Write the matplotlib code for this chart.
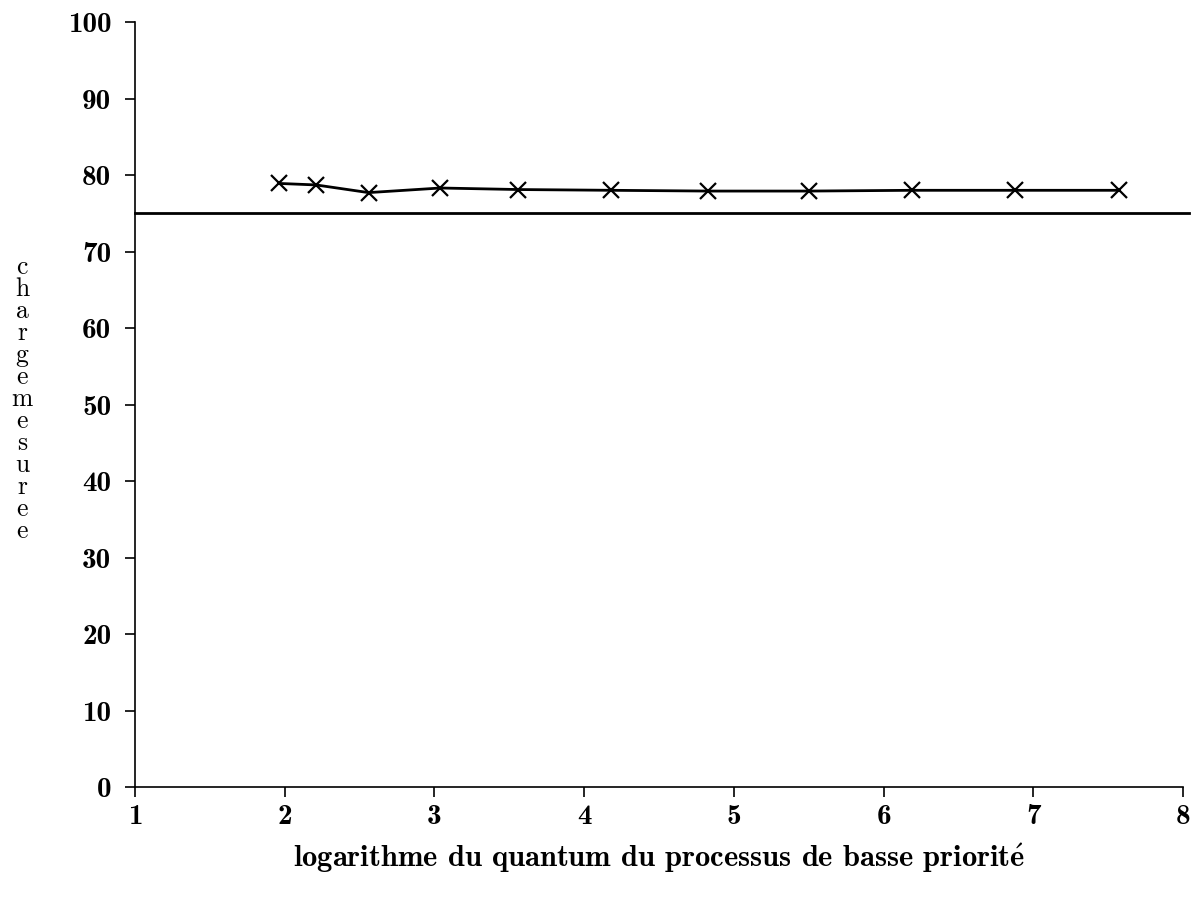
import matplotlib
matplotlib.use('Agg')
import matplotlib.pyplot as plt

plt.rcParams['mathtext.fontset'] = 'custom'
plt.rcParams['mathtext.bf'] = 'cmb10'
plt.rcParams['mathtext.rm'] = 'cmb10'

# Log of the low priority quantum and measured load
log_quantum = [1.96, 2.21, 2.56, 3.04, 3.56, 4.18, 4.83, 5.50, 6.19, 6.88, 7.57]
charge = [78.9, 78.7, 77.7, 78.3, 78.1, 78.0, 77.9, 77.9, 78.0, 78.0, 78.0]

# Reference load level
charge_ref = 75
ref_span = [1, 8.04]

x_ticks = [1, 2, 3, 4, 5, 6, 7, 8]
y_ticks = [0, 10, 20, 30, 40, 50, 60, 70, 80, 90, 100]

bold_font = ['cmb10', 'DejaVu Serif']
roman_font = ['cmr10', 'DejaVu Serif']

fig = plt.figure(figsize=(12.04, 8.98), dpi=100)
ax = fig.add_axes([0.1121, 0.1236, 0.8705, 0.8519])

# Curve and reference line
ax.plot(log_quantum, charge, color='black', lw=2, marker='x', ms=11, mew=1.6, clip_on=False)
ax.plot(ref_span, [charge_ref, charge_ref], color='black', lw=2, clip_on=False)

ax.set_xlim(1, 8)
ax.set_ylim(0, 100)

# Spines
ax.spines['top'].set_visible(False)
ax.spines['right'].set_visible(False)
ax.spines['left'].set_linewidth(1.2)
ax.spines['bottom'].set_linewidth(1.2)

# Ticks
ax.set_xticks(x_ticks)
ax.set_yticks(y_ticks)
ax.tick_params(direction='out', length=7, width=1.2)
ax.tick_params(axis='x', pad=5)
ax.tick_params(axis='y', pad=10)
for lab in ax.get_xticklabels() + ax.get_yticklabels():
    lab.set_fontfamily(bold_font)
    lab.set_fontsize(21)

# Labels
ax.set_xlabel(r'logarithme du quantum du processus de basse priorit$\mathbf{\acute{e}}$',
              family=bold_font, fontsize=22, labelpad=8)
fig.text(22 / 1204, 1 - 399 / 898, '\n'.join('chargemesuree'),
         family=roman_font, fontsize=18.5, ha='center', va='center',
         linespacing=0.91)

plt.savefig('out.png', dpi=100)
